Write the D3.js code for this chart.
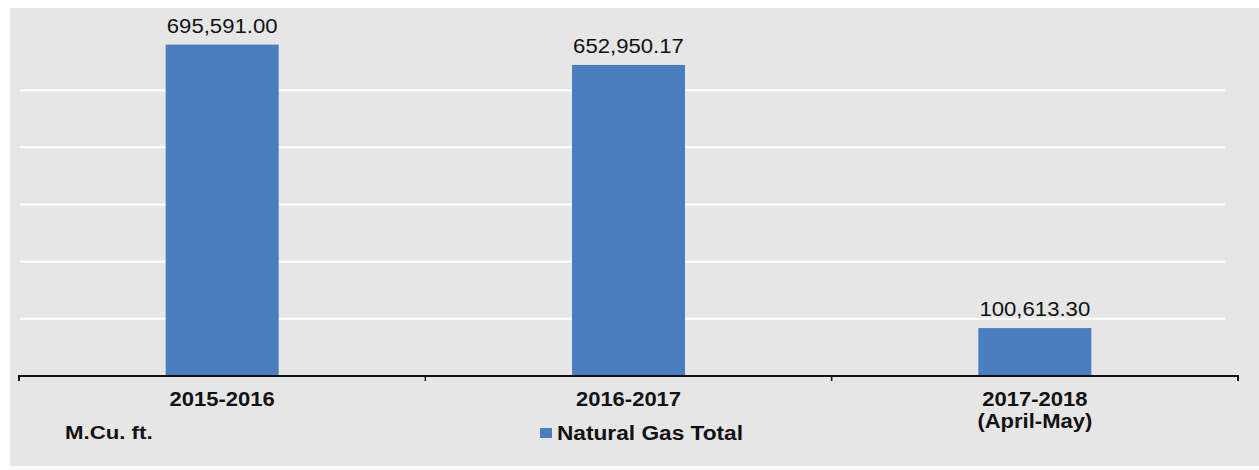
<!DOCTYPE html>
<html><head><meta charset="utf-8">
<script src="https://cdn.jsdelivr.net/npm/d3@7"></script>
<style>body{margin:0;background:#fff}svg{display:block}text{font-family:"Liberation Sans",Arial,sans-serif;fill:#111}</style>
</head><body>
<script>
const categories = ["2015-2016", "2016-2017", "2017-2018|(April-May)"];
const values = [695591.00, 652950.17, 100613.30];
const valueLabels = ["695,591.00", "652,950.17", "100,613.30"];
const gridTicks = [120000, 240000, 360000, 480000, 600000];
const seriesName = "Natural Gas Total";
const unitLabel = "M.Cu. ft.";

const W = 1259, H = 470;
const svg = d3.select("body").append("svg").attr("width", W).attr("height", H);
svg.append("rect").attr("x", 10).attr("y", 8).attr("width", 1249).attr("height", 458).attr("fill", "#e6e6e6");

const x = d3.scaleBand().domain(categories).range([19, 1238]).paddingInner(0).paddingOuter(0);
const y = d3.scaleLinear().domain([0, 720000]).range([376, 33]);
const bw = 113;

svg.append("g").selectAll("line").data(gridTicks).join("line")
  .attr("x1", 20).attr("x2", 1225).attr("y1", d => y(d)).attr("y2", d => y(d))
  .attr("stroke", "#fff").attr("stroke-width", 2);

svg.append("g").selectAll("rect").data(values).join("rect")
  .attr("x", (d, i) => x(categories[i]) + x.bandwidth() / 2 - bw / 2)
  .attr("width", bw).attr("y", d => y(d)).attr("height", d => y(0) - y(d))
  .attr("fill", "#4a7ebe");

svg.append("g").selectAll("text").data(values).join("text")
  .attr("text-anchor", "middle")
  .attr("transform", (d, i) => `translate(${x(categories[i]) + x.bandwidth() / 2},${y(d) - 12}) scale(1.08,1)`)
  .style("font-size", "20.5px").text((d, i) => valueLabels[i]);

const ax = svg.append("g").attr("transform", "translate(0,376)")
  .call(d3.axisBottom(x).tickSize(0).tickFormat(""));
ax.select(".domain").attr("stroke", "#111").attr("stroke-width", 2).attr("d", "M19,5V0H1238V5");
const bounds = categories.map(c => x(c)).concat([x.range()[1]]);
svg.append("g").selectAll("line").data(bounds).join("line")
  .attr("x1", d => d).attr("x2", d => d).attr("y1", 376).attr("y2", 381)
  .attr("stroke", "#111").attr("stroke-width", 1.5);

const cl = svg.append("g").selectAll("text").data(categories).join("text")
  .attr("text-anchor", "middle").style("font-size", "20px").style("font-weight", "bold")
  .attr("transform", c => `translate(${x(c) + x.bandwidth() / 2},406) scale(1.1,1)`);
cl.each(function(c) {
  const parts = c.split("|");
  d3.select(this).selectAll("tspan").data(parts).join("tspan")
    .attr("x", 0).attr("dy", (p, i) => i ? 22 : 0).text(p => p);
});

svg.append("text").attr("transform", "translate(65,439) scale(1.17,1)")
  .style("font-size", "19px").style("font-weight", "bold").text(unitLabel);

svg.append("rect").attr("x", 540).attr("y", 428).attr("width", 12).attr("height", 10).attr("fill", "#4a7ebe");
svg.append("text").attr("transform", "translate(557,440) scale(1.08,1)")
  .style("font-size", "21px").style("font-weight", "bold").text(seriesName);
</script>
</body></html>
